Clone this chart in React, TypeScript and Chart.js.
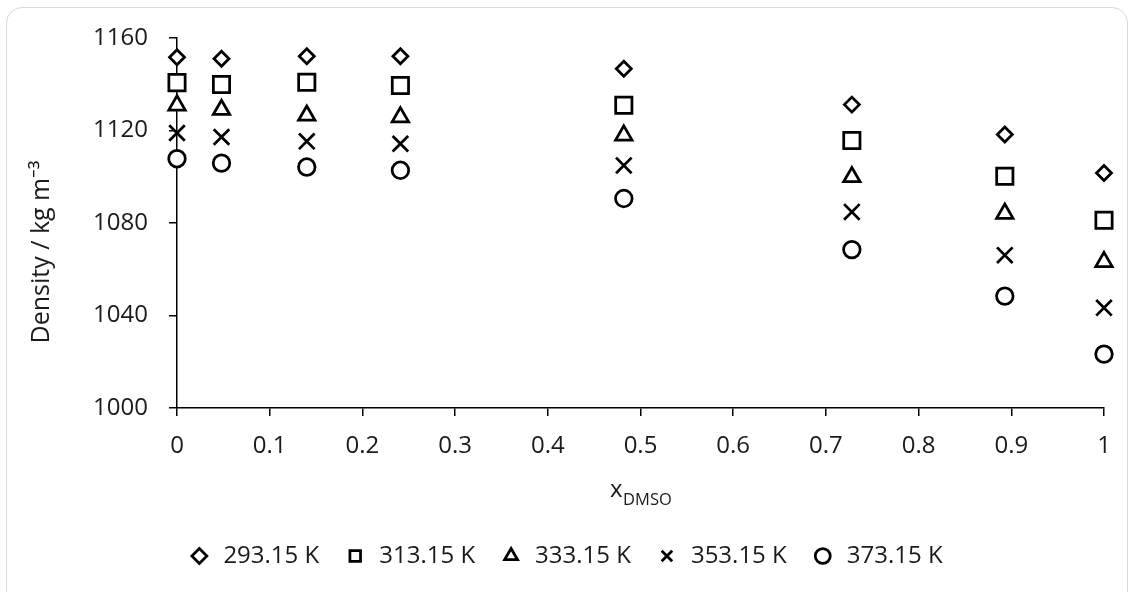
import React, { useEffect, useRef } from "react";
import { Chart, registerables } from "chart.js";

Chart.register(...registerables);

const xValues = [0, 0.048, 0.14, 0.241, 0.482, 0.728, 0.893, 1];
const seriesLabels = ["293.15 K", "313.15 K", "333.15 K", "353.15 K", "373.15 K"];
const d29315 = [1151.7, 1151.0, 1152.1, 1152.1, 1146.7, 1131.2, 1118.3, 1101.6];
const d31315 = [1140.7, 1139.9, 1140.9, 1139.5, 1130.9, 1115.7, 1100.2, 1081.2];
const d33315 = [1130.9, 1129.0, 1126.5, 1125.8, 1117.9, 1099.9, 1084.1, 1063.2];
const d35315 = [1118.9, 1117.2, 1115.3, 1114.3, 1104.9, 1084.8, 1066.1, 1043.3];
const d37315 = [1107.8, 1105.9, 1104.2, 1102.8, 1090.6, 1068.5, 1048.4, 1023.3];
const yTicks = [1000, 1040, 1080, 1120, 1160];
const yTitle = "Density / kg m⁻³";
const xTitleMain = "x";
const xTitleSub = "DMSO";

const seriesValues = [d29315, d31315, d33315, d35315, d37315];
const pointStyles = ["rectRot", "rect", "triangle", "crossRot", "circle"];
const pointRadii = [7.5, 11.5, 9.5, 11, 8.3];

const FONT = "'Open Sans', 'Noto Sans', sans-serif";
const TEXT = "#1a1a1a";

export default function App() {
  const ref = useRef<HTMLCanvasElement | null>(null);

  useEffect(() => {
    if (!ref.current) return;
    const datasets = seriesValues.map((vals, i) => ({
      label: seriesLabels[i],
      data: vals.map((v, j) => ({ x: xValues[j], y: v })),
      pointStyle: pointStyles[i],
      pointRadius: pointRadii[i],
      pointHoverRadius: pointRadii[i],
      pointBorderWidth: 2.75,
      borderWidth: 2.75,
      borderColor: "#000",
      backgroundColor: "#fff",
      pointBackgroundColor: "#fff",
      pointBorderColor: "#000",
      showLine: false,
      clip: false as any,
    }));

    const titlesPlugin = {
      id: "axisTitles",
      afterLayout(chart: any) {
        const lg = chart.legend;
        if (lg) {
          lg.left += 13;
          lg.right += 13;
        }
      },
      afterDraw(chart: any) {
        const ctx = chart.ctx;
        ctx.save();
        ctx.fillStyle = TEXT;
        // x-axis title with subscript
        ctx.textBaseline = "alphabetic";
        ctx.textAlign = "left";
        ctx.font = `24px ${FONT}`;
        const wx = ctx.measureText(xTitleMain).width;
        const start = 610;
        ctx.fillText(xTitleMain, start, 497);
        ctx.font = `16.5px ${FONT}`;
        ctx.fillText(xTitleSub, start + wx + 0.5, 505);
        // y-axis title
        ctx.translate(42, 252);
        ctx.rotate(-Math.PI / 2);
        ctx.textAlign = "center";
        ctx.textBaseline = "middle";
        ctx.font = `25px ${FONT}`;
        ctx.fillText(yTitle, 0, 0);
        ctx.restore();
      },
    };

    const chart = new Chart(ref.current, {
      type: "scatter",
      data: { datasets: datasets as any },
      plugins: [titlesPlugin],
      options: {
        responsive: false,
        animation: false,
        devicePixelRatio: 1,
        layout: { padding: { left: 0, right: 28, top: 38, bottom: 14 } },
        font: { family: FONT, size: 24 },
        color: TEXT,
        plugins: {
          tooltip: { enabled: false },
          legend: {
            position: "bottom",
            labels: {
              usePointStyle: true,
              boxHeight: 10.6,
              padding: 24,
              color: TEXT,
              font: { family: FONT, size: 24 },
            },
          },
        },
        scales: {
          x: {
            type: "linear",
            min: 0,
            max: 1,
            afterFit(scale: any) {
              scale.height = 112;
            },
            ticks: {
              stepSize: 0.1,
              padding: 16,
              color: TEXT,
              font: { family: FONT, size: 24 },
              callback: (v: any) => String(Number(Number(v).toFixed(1))),
            },
            grid: {
              drawOnChartArea: false,
              drawTicks: true,
              tickLength: 8,
              color: "#000",
              lineWidth: 1.5,
            },
            border: { color: "#000", width: 1.5 },
          },
          y: {
            type: "linear",
            min: yTicks[0],
            max: yTicks[yTicks.length - 1],
            afterFit(scale: any) {
              scale.width = 177;
            },
            afterBuildTicks(scale: any) {
              scale.ticks = yTicks.map((v) => ({ value: v }));
            },
            ticks: {
              padding: 21,
              color: TEXT,
              font: { family: FONT, size: 24 },
              callback: (v: any) => String(v),
            },
            grid: {
              drawOnChartArea: false,
              drawTicks: true,
              tickLength: 8,
              color: "#000",
              lineWidth: 1.5,
            },
            border: { color: "#000", width: 1.5 },
          },
        },
      },
    });
    return () => chart.destroy();
  }, []);

  return (
    <div style={{ position: "absolute", left: 0, top: 0, width: 1132, height: 592, background: "#fff" }}>
      <div
        style={{
          position: "absolute",
          left: 6,
          top: 7,
          width: 1122,
          height: 600,
          border: "1.5px solid #d9d9d9",
          borderRadius: 16,
          boxSizing: "border-box",
        }}
      />
      <canvas ref={ref} width={1132} height={592} style={{ position: "absolute", left: 0, top: 0 }} />
    </div>
  );
}
